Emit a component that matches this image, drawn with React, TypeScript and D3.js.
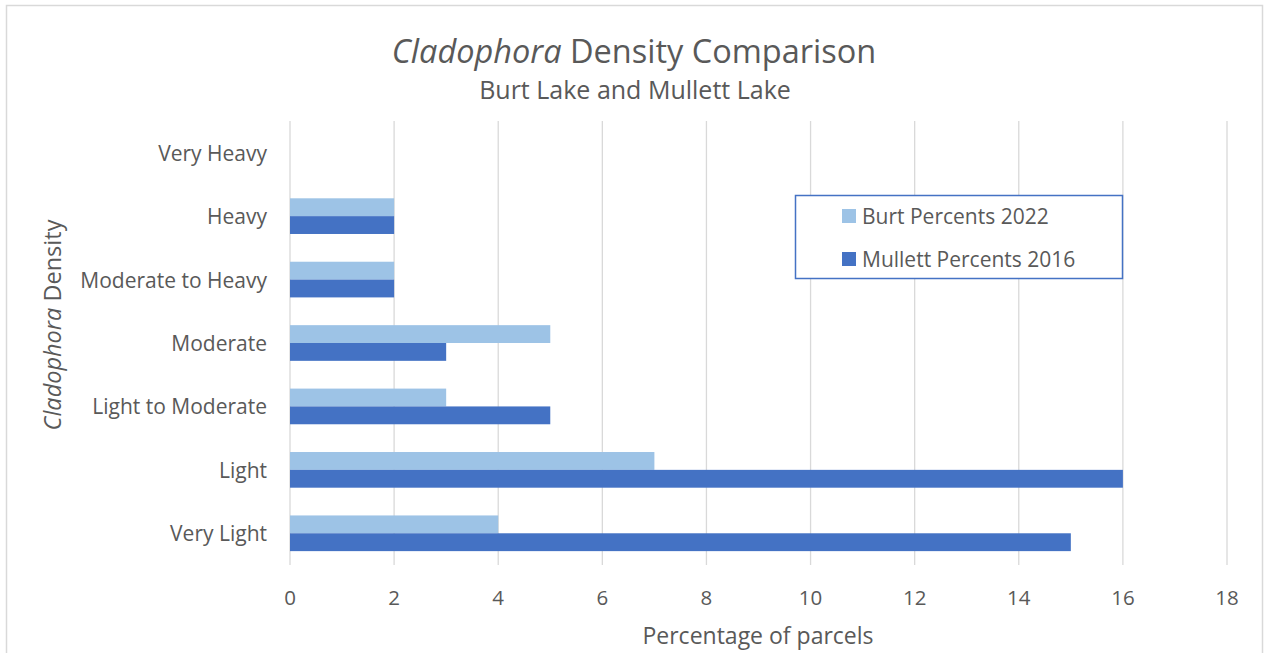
import React from "react";
import * as d3 from "d3";

const categories = ["Very Heavy", "Heavy", "Moderate to Heavy", "Moderate", "Light to Moderate", "Light", "Very Light"];
const burt2022 = [0, 2, 2, 5, 3, 7, 4];
const mullett2016 = [0, 2, 2, 3, 5, 16, 15];
const seriesNames = ["Burt Percents 2022", "Mullett Percents 2016"];
const seriesColors = ["#9DC3E6", "#4472C4"];
const xTicks = [0, 2, 4, 6, 8, 10, 12, 14, 16, 18];

const W = 1266, H = 653;
const FONT = "'Open Sans', Lato, sans-serif";
const TXT = "#595959";

export default function App() {
  const left = 290, right = 1227, top = 121, bottom = 565;
  const x = d3.scaleLinear().domain([0, 18]).range([left, right]);
  const y = d3.scaleBand().domain(categories).range([top, bottom]).paddingInner(0.4375).paddingOuter(0.21875);
  const sub = d3.scaleBand().domain(seriesNames).range([0, y.bandwidth()]);
  const series = [burt2022, mullett2016];

  return (
    <svg width={W} height={H} style={{ position: "absolute", left: 0, top: 0, background: "#fff" }}>
      <rect x={6.5} y={5.5} width={1256} height={660} fill="#fff" stroke="#D9D9D9" strokeWidth={1.5} />
      <text x={634} y={50} textAnchor="middle" dominantBaseline="central" fontFamily={FONT} fontSize={32.5} fill={TXT}>
        <tspan fontStyle="italic">Cladophora</tspan> Density Comparison
      </text>
      <text x={635} y={89} textAnchor="middle" dominantBaseline="central" fontFamily={FONT} fontSize={25} fill={TXT}>Burt Lake and Mullett Lake</text>
      {xTicks.map(t => (
        <line key={t} x1={x(t)} x2={x(t)} y1={top} y2={bottom} stroke="#D9D9D9" strokeWidth={1.3} />
      ))}
      {categories.map((c, i) => (
        <g key={c}>
          {series.map((s, k) => (
            <rect key={k} x={x(0)} y={(y(c) as number) + (sub(seriesNames[k]) as number)} width={x(s[i]) - x(0)} height={sub.bandwidth()} fill={seriesColors[k]} />
          ))}
          <text x={267} y={(y(c) as number) + y.bandwidth() / 2} textAnchor="end" dominantBaseline="central" fontFamily={FONT} fontSize={21} fill={TXT}>{c}</text>
        </g>
      ))}
      {xTicks.map(t => (
        <text key={t} x={x(t)} y={597} textAnchor="middle" dominantBaseline="central" fontFamily={FONT} fontSize={20.5} fill={TXT}>{t}</text>
      ))}
      <text x={758} y={635} textAnchor="middle" dominantBaseline="central" fontFamily={FONT} fontSize={23} fill={TXT}>Percentage of parcels</text>
      <text transform="translate(52,325) rotate(-90)" textAnchor="middle" dominantBaseline="central" fontFamily={FONT} fontSize={23.5} fill={TXT}>
        <tspan fontStyle="italic">Cladophora</tspan> Density
      </text>
      <rect x={795.5} y={195.5} width={327} height={83} fill="#fff" stroke="#4472C4" strokeWidth={1.5} />
      {seriesNames.map((n, k) => (
        <g key={n}>
          <rect x={842} y={209 + k * 43} width={14} height={14} fill={seriesColors[k]} />
          <text x={862} y={216 + k * 43} dominantBaseline="central" fontFamily={FONT} fontSize={21} fill={TXT}>{n}</text>
        </g>
      ))}
    </svg>
  );
}
